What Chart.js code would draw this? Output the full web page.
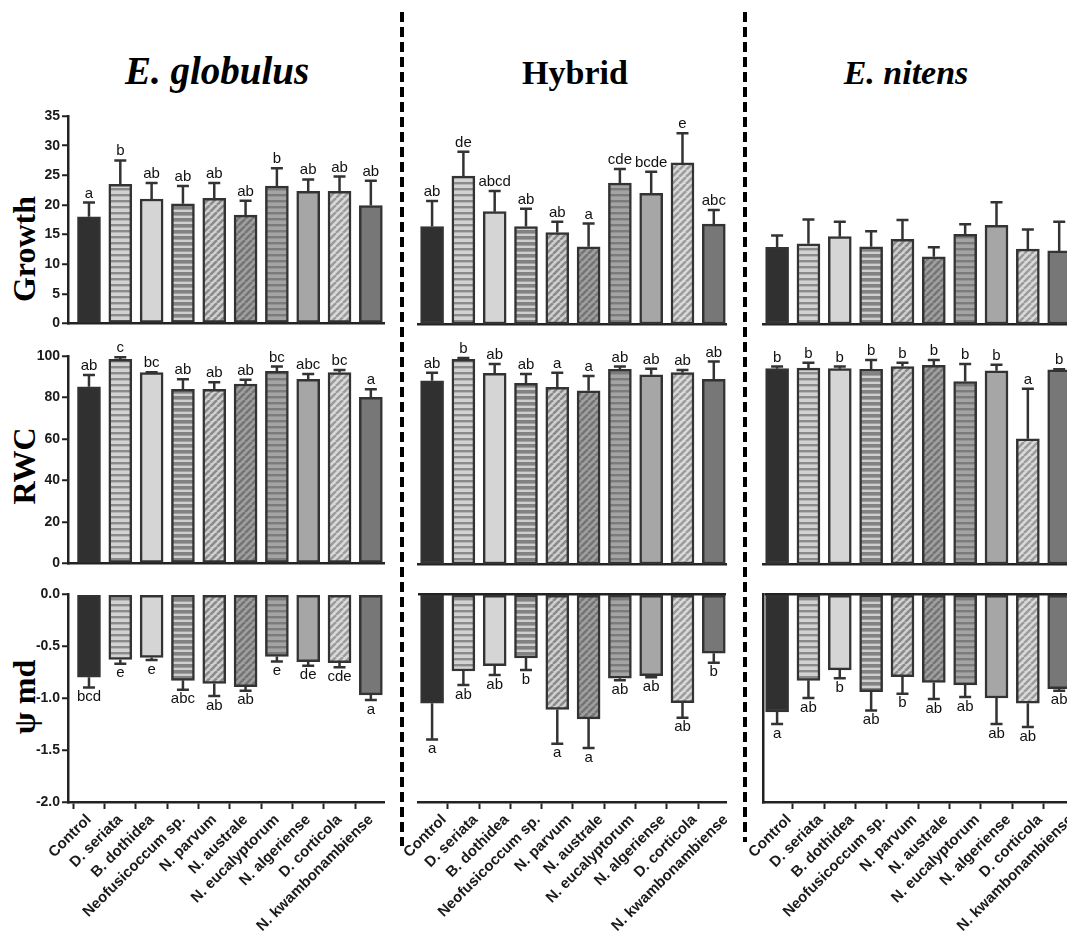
<!DOCTYPE html>
<html>
<head>
<meta charset="utf-8">
<script src="https://cdn.jsdelivr.net/npm/chart.js@4.4.0/dist/chart.umd.min.js"></script>
<style>
  body { margin: 0; width: 1067px; height: 938px; overflow: hidden; background: #fff; position: relative; }
  .panel { position: absolute; }
  .coltitle { position: absolute; width: 300px; text-align: center; font-family: "Liberation Serif", "DejaVu Serif", serif; font-weight: bold; font-size: 34px; line-height: 40px; color: #000; }
  .ytitle { position: absolute; width: 200px; height: 40px; line-height: 40px; text-align: center; font-family: "Liberation Serif", "DejaVu Serif", serif; font-weight: bold; font-size: 32px; color: #000; transform: rotate(-90deg); }
  svg { position: absolute; left: 0; top: 0; z-index: 5; }
</style>
</head>
<body>
<div class="coltitle" style="left:67px; top:51px; font-size:39px;"><i>E. globulus</i></div>
<div class="coltitle" style="left:425px; top:53px;">Hybrid</div>
<div class="coltitle" style="left:756px; top:53px;"><i>E. nitens</i></div>
<div class="ytitle" style="left:-76px; top:229px;">Growth</div>
<div class="ytitle" style="left:-76px; top:446px;">RWC</div>
<div class="ytitle" style="left:-76px; top:677px;">ψ md</div>
<svg width="1067" height="938">
  <line x1="402" y1="12" x2="402" y2="846" stroke="#000" stroke-width="4" stroke-dasharray="10 5"/>
  <line x1="745" y1="12" x2="745" y2="842" stroke="#000" stroke-width="4" stroke-dasharray="10 5"/>
</svg>
<script>
// treatments (same order in every panel)
const categories = ["Control", "D. seriata", "B. dothidea", "Neofusicoccum sp.", "N. parvum",
  "N. australe", "N. eucalyptorum", "N. algeriense", "D. corticola", "N. kwambonambiense"];

// Growth
const growthGlobulus = [18.0, 23.5, 21.0, 20.2, 21.1, 18.3, 23.2, 22.3, 22.3, 19.9];
const growthGlobulusSe = [2.4, 4.0, 2.7, 3.0, 2.6, 2.4, 3.0, 2.0, 2.5, 4.2];
const growthGlobulusLetters = ["a", "b", "ab", "ab", "ab", "ab", "b", "ab", "ab", "ab"];
const growthHybrid = [16.4, 24.9, 18.9, 16.4, 15.4, 13.0, 23.7, 22.0, 27.1, 16.8];
const growthHybridSe = [4.3, 4.1, 3.5, 3.0, 1.8, 3.9, 2.4, 3.6, 5.0, 2.4];
const growthHybridLetters = ["ab", "de", "abcd", "ab", "ab", "a", "cde", "bcde", "e", "abc"];
const growthNitens = [12.9, 13.5, 14.7, 13.0, 14.25, 11.3, 15.1, 16.6, 12.6, 12.3];
const growthNitensSe = [2.0, 4.1, 2.5, 2.6, 3.25, 1.6, 1.7, 3.9, 3.3, 4.9];

// RWC
const rwcGlobulus = [85.2, 98.4, 92.0, 84.0, 84.0, 86.5, 92.6, 88.8, 92.0, 80.1];
const rwcGlobulusSe = [5.7, 1.0, 0.2, 4.8, 3.3, 2.0, 2.3, 2.5, 1.3, 3.9];
const rwcGlobulusLetters = ["ab", "c", "bc", "ab", "ab", "ab", "bc", "abc", "bc", "a"];
const rwcHybrid = [88.1, 98.4, 91.7, 86.9, 84.9, 83.3, 93.6, 91.0, 92.0, 88.8];
const rwcHybridSe = [3.9, 0.6, 4.5, 4.4, 7.1, 7.1, 1.3, 2.9, 1.3, 8.5];
const rwcHybridLetters = ["ab", "b", "ab", "ab", "a", "a", "ab", "ab", "ab", "ab"];
const rwcNitens = [93.9, 94.2, 93.9, 93.6, 94.9, 95.5, 87.7, 92.9, 60.2, 93.3];
const rwcNitensSe = [1.0, 2.6, 1.0, 4.5, 1.9, 2.6, 8.5, 2.9, 24.1, 0.3];
const rwcNitensLetters = ["b", "b", "b", "b", "b", "b", "b", "b", "a", "b"];

// Psi md
const psiGlobulus = [-0.80, -0.63, -0.61, -0.83, -0.86, -0.89, -0.60, -0.65, -0.66, -0.97];
const psiGlobulusSe = [0.10, 0.04, 0.025, 0.09, 0.12, 0.04, 0.05, 0.04, 0.045, 0.05];
const psiGlobulusLetters = ["bcd", "e", "e", "abc", "ab", "ab", "e", "de", "cde", "a"];
const psiHybrid = [-1.05, -0.74, -0.69, -0.615, -1.11, -1.20, -0.81, -0.785, -1.045, -0.57];
const psiHybridSe = [0.35, 0.135, 0.09, 0.115, 0.33, 0.28, 0.02, 0.015, 0.145, 0.09];
const psiHybridLetters = ["a", "ab", "ab", "b", "a", "a", "ab", "ab", "ab", "b"];
const psiNitens = [-1.135, -0.83, -0.73, -0.94, -0.795, -0.85, -0.875, -1.00, -1.05, -0.91];
const psiNitensSe = [0.115, 0.17, 0.08, 0.18, 0.165, 0.16, 0.115, 0.25, 0.23, 0.02];
const psiNitensLetters = ["a", "ab", "b", "ab", "b", "ab", "ab", "ab", "ab", "ab"];

// y axis ranges per row
const yMins = [0, 0, -2];
const yMaxs = [35, 100, 0];
const ySteps = [5, 20, 0.5];

Chart.defaults.font.family = "'Liberation Sans', Arial, sans-serif";

function hStripes(bg, fg, dark) {
  const c = document.createElement("canvas");
  c.width = 4; c.height = 6;
  const g = c.getContext("2d");
  g.fillStyle = bg; g.fillRect(0, 0, 4, 6);
  g.fillStyle = fg; g.fillRect(0, 0, 4, dark);
  return g.createPattern(c, "repeat");
}

function dStripes(bg, fg) {
  const c = document.createElement("canvas");
  c.width = 7; c.height = 7;
  const g = c.getContext("2d");
  g.fillStyle = bg; g.fillRect(0, 0, 7, 7);
  g.strokeStyle = fg; g.lineWidth = 2.6;
  g.beginPath();
  [-7, 0, 7].forEach(k => { g.moveTo(k, 7); g.lineTo(k + 7, 0); });
  g.stroke();
  return g.createPattern(c, "repeat");
}

const fills = [
  "#303030",
  hStripes("#d2d2d2", "#8a8a8a", 2.4),
  "#d5d5d5",
  hStripes("#cfcfcf", "#828282", 3.6),
  dStripes("#d0d0d0", "#8a8a8a"),
  dStripes("#a0a0a0", "#747474"),
  hStripes("#a4a4a4", "#7b7b7b", 2.4),
  "#a6a6a6",
  dStripes("#dadada", "#9c9c9c"),
  "#777777"
];

const errorBars = {
  id: "errorBars",
  afterDatasetsDraw(chart, args, opts) {
    const ctx = chart.ctx;
    const y = chart.scales.y;
    const vals = chart.data.datasets[0].data;
    const meta = chart.getDatasetMeta(0);
    ctx.save();
    ctx.strokeStyle = "#333";
    ctx.lineWidth = 2.5;
    ctx.fillStyle = "#111";
    ctx.font = "15px 'Liberation Sans', Arial, sans-serif";
    ctx.textAlign = "center";
    meta.data.forEach((bar, i) => {
      const v = vals[i].y;
      const dir = v < 0 ? -1 : 1;
      const y0 = y.getPixelForValue(v);
      const y1 = y.getPixelForValue(v + dir * opts.se[i]);
      ctx.beginPath();
      ctx.moveTo(bar.x, y0); ctx.lineTo(bar.x, y1);
      ctx.moveTo(bar.x - 6, y1); ctx.lineTo(bar.x + 6, y1);
      ctx.stroke();
      if (opts.letters && opts.letters[i]) {
        if (dir > 0) {
          ctx.textBaseline = "alphabetic";
          ctx.fillText(opts.letters[i], bar.x, y1 - 5);
        } else {
          ctx.textBaseline = "top";
          ctx.fillText(opts.letters[i], bar.x, y1 + 2);
        }
      }
    });
    ctx.restore();
  }
};

const cols = [
  { left: 0, width: 396, padL: 0, yW: 68, xMin: -0.67, xMax: 9.42, labelShift: 0 },
  { left: 378, width: 360, padL: 40, yW: 0, xMin: -0.45, xMax: 9.39, labelShift: 12 },
  { left: 723, width: 367, padL: 40, yW: 0, xMin: -0.45, xMax: 9.6, labelShift: 12 }
];
const rows = [
  { top: 86, padT: 30, xH: 10 },
  { top: 330, padT: 26, xH: 10 },
  { top: 580, padT: 14, xH: 136 }
];

function buildPanel(colIdx, rowIdx, values, se, letters) {
  const c = cols[colIdx], r = rows[rowIdx];
  const wrap = document.createElement("div");
  wrap.className = "panel";
  wrap.style.left = c.left + "px";
  wrap.style.top = r.top + "px";
  wrap.style.width = c.width + "px";
  wrap.style.height = (r.padT + 208 + r.xH) + "px";
  const cv = document.createElement("canvas");
  wrap.appendChild(cv);
  document.body.insertBefore(wrap, document.querySelector("svg"));
  const isBottom = rowIdx === 2;
  const showY = colIdx === 0;

  new Chart(cv, {
    type: "bar",
    data: {
      datasets: [{
        data: values.map((v, i) => ({ x: i, y: v })),
        backgroundColor: fills,
        borderColor: "#333",
        borderWidth: 2.5,
        borderSkipped: false,
        barThickness: 23
      }]
    },
    options: {
      responsive: true,
      maintainAspectRatio: false,
      animation: false,
      devicePixelRatio: 1,
      layout: { padding: { left: c.padL, right: 12, top: r.padT, bottom: 0 } },
      plugins: {
        legend: { display: false },
        tooltip: { enabled: false },
        errorBars: { se: se, letters: letters }
      },
      scales: {
        x: {
          type: "linear",
          min: c.xMin,
          max: c.xMax,
          offset: false,
          afterBuildTicks: s => { s.ticks = categories.map((_, i) => ({ value: i })); },
          afterFit: s => { s.height = r.xH; },
          ticks: {
            display: isBottom,
            autoSkip: false,
            maxRotation: 45,
            minRotation: 45,
            padding: 2,
            labelOffset: c.labelShift,
            color: "#1a1a1a",
            font: { size: 15, weight: "bold" },
            callback: v => categories[v]
          },
          grid: { display: isBottom, drawOnChartArea: false, drawTicks: true, tickLength: 7, tickWidth: 2, tickColor: "#222" },
          border: { display: true, width: 2.5, color: "#222" }
        },
        y: {
          min: yMins[rowIdx],
          max: yMaxs[rowIdx],
          afterFit: s => { s.width = c.yW; },
          ticks: {
            display: showY,
            stepSize: ySteps[rowIdx],
            padding: 2,
            color: "#1a1a1a",
            font: { size: 14, weight: "bold" },
            callback: v => isBottom ? v.toFixed(1) : v
          },
          grid: {
            display: showY || isBottom,
            drawOnChartArea: isBottom && colIdx > 0,
            drawTicks: showY,
            tickLength: 6,
            tickWidth: 2,
            tickColor: "#222",
            lineWidth: 2.5,
            color: ctx => (ctx.tick && ctx.tick.value === 0) ? "#222" : "rgba(0,0,0,0)"
          },
          border: { display: showY || (isBottom && colIdx === 2), width: 2.5, color: "#222" }
        }
      }
    },
    plugins: [errorBars]
  });
}

buildPanel(0, 0, growthGlobulus, growthGlobulusSe, growthGlobulusLetters);
buildPanel(1, 0, growthHybrid, growthHybridSe, growthHybridLetters);
buildPanel(2, 0, growthNitens, growthNitensSe, null);
buildPanel(0, 1, rwcGlobulus, rwcGlobulusSe, rwcGlobulusLetters);
buildPanel(1, 1, rwcHybrid, rwcHybridSe, rwcHybridLetters);
buildPanel(2, 1, rwcNitens, rwcNitensSe, rwcNitensLetters);
buildPanel(0, 2, psiGlobulus, psiGlobulusSe, psiGlobulusLetters);
buildPanel(1, 2, psiHybrid, psiHybridSe, psiHybridLetters);
buildPanel(2, 2, psiNitens, psiNitensSe, psiNitensLetters);
</script>
</body>
</html>
